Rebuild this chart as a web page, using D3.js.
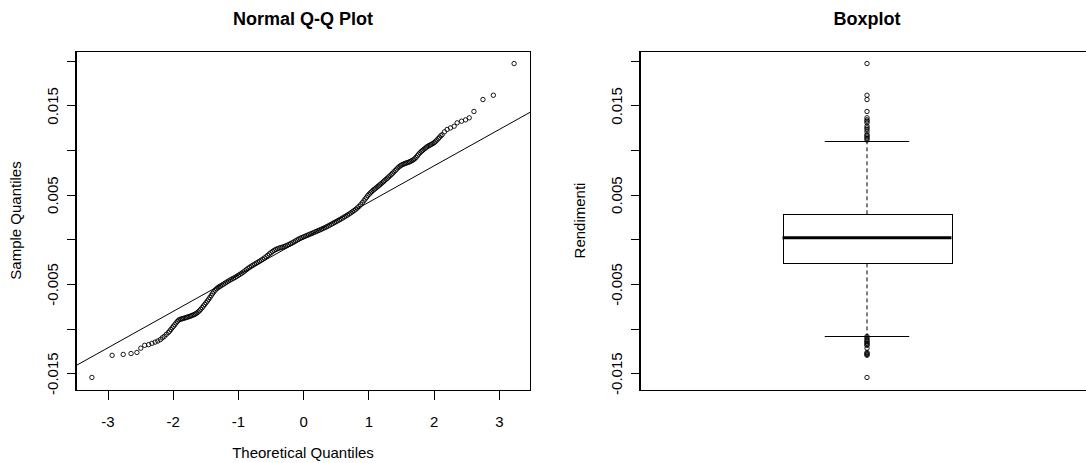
<!DOCTYPE html>
<html><head><meta charset="utf-8">
<script src="https://cdn.jsdelivr.net/npm/d3@7"></script>
<style>
body{margin:0;background:#fff}
text{font-family:"Liberation Sans", Arial, Helvetica, sans-serif;fill:#000}
</style>
</head><body>
<svg id="chart" width="1086" height="463"></svg>
<script>
// ---- Data ----
// Normal Q-Q plot: theoretical quantiles (x) and sorted sample returns (y)
const qqTheoretical = [
 -3.24,-2.93,-2.76,-2.64,-2.55,-2.49,-2.43,-2.37,-2.32,-2.27,-2.23,-2.19,-2.16,-2.13,-2.10,-2.07,-2.05,-2.03,-2.01,
 -1.99,-1.97,-1.95,-1.93,-1.91,-1.89,-1.87,-1.85,-1.83,-1.81,-1.79,-1.77,-1.75,-1.73,-1.71,-1.69,-1.67,-1.65,-1.63,-1.61,
 -1.59,-1.57,-1.55,-1.53,-1.51,-1.49,-1.47,-1.45,-1.43,-1.41,-1.39,-1.37,-1.35,-1.33,-1.31,-1.29,
 -1.27,-1.245,-1.22,-1.195,-1.17,-1.145,-1.12,-1.095,-1.07,-1.045,-1.02,-0.995,-0.97,-0.945,-0.92,-0.895,-0.87,-0.845,
 -0.82,-0.795,-0.77,-0.745,-0.72,-0.695,-0.67,-0.645,-0.62,-0.595,-0.57,-0.545,-0.52,-0.495,-0.47,-0.445,-0.42,-0.395,
 -0.37,-0.345,-0.32,-0.295,-0.27,-0.245,-0.22,-0.195,-0.17,-0.145,-0.12,-0.095,-0.07,-0.045,-0.02,0.005,0.03,0.055,
 0.08,0.105,0.13,0.155,0.18,0.205,0.23,0.255,0.28,0.305,0.33,0.355,0.38,0.405,0.43,0.455,0.48,0.505,0.53,0.555,
 0.58,0.605,0.63,0.655,0.68,0.705,0.73,0.755,0.78,0.805,0.83,0.855,0.88,0.905,
 0.93,0.95,0.97,0.99,1.01,1.03,1.05,1.07,1.09,1.11,1.13,1.15,1.17,1.19,1.21,1.23,1.25,1.27,1.29,1.31,1.33,1.35,
 1.37,1.39,1.41,1.43,1.45,1.47,1.49,1.51,1.53,1.55,1.57,1.59,1.61,1.63,1.65,1.67,1.69,1.71,1.73,1.75,1.77,1.79,
 1.81,1.83,1.85,1.87,1.89,1.91,1.93,1.95,1.97,1.99,2.01,2.03,2.05,2.07,2.09,2.11,
 2.13,2.165,2.206,2.257,2.314,2.36,2.427,2.489,2.545,2.617,2.755,2.915,3.233
];
const qqSample = [
 -0.01548,-0.01300,-0.01290,-0.01280,-0.01268,-0.01220,-0.01188,-0.01180,-0.01166,-0.01152,-0.01140,-0.01124,-0.01104,-0.01088,-0.01066,-0.01046,-0.01030,-0.01012,-0.00992,
 -0.00975,-0.00958,-0.00938,-0.00920,-0.00906,-0.00898,-0.00893,-0.00889,-0.00885,-0.00880,-0.00876,-0.00871,-0.00866,-0.00861,-0.00855,-0.00849,-0.00843,-0.00835,-0.00826,-0.00814,
 -0.00800,-0.00784,-0.00766,-0.00748,-0.00730,-0.00711,-0.00692,-0.00672,-0.00652,-0.00630,-0.00608,-0.00588,-0.00570,-0.00555,-0.00543,-0.00533,
 -0.00524,-0.00513,-0.00502,-0.00490,-0.00478,-0.00467,-0.00456,-0.00446,-0.00437,-0.00427,-0.00416,-0.00404,-0.00393,-0.00381,-0.00368,-0.00354,-0.00340,-0.00326,
 -0.00313,-0.00301,-0.00290,-0.00279,-0.00268,-0.00257,-0.00246,-0.00235,-0.00223,-0.00210,-0.00196,-0.00180,-0.00164,-0.00150,-0.00136,-0.00124,-0.00114,-0.00106,
 -0.00099,-0.00093,-0.00088,-0.00082,-0.00075,-0.00067,-0.00058,-0.00049,-0.00040,-0.00030,-0.00019,-0.00008,0.00002,0.00011,0.00019,0.00027,0.00035,0.00042,
 0.00050,0.00058,0.00065,0.00073,0.00081,0.00089,0.00097,0.00105,0.00113,0.00121,0.00130,0.00139,0.00148,0.00158,0.00168,0.00178,0.00188,0.00198,0.00208,0.00218,
 0.00228,0.00239,0.00250,0.00261,0.00272,0.00284,0.00296,0.00309,0.00322,0.00336,0.00351,0.00368,0.00388,0.00410,
 0.00432,0.00452,0.00470,0.00490,0.00506,0.00520,0.00534,0.00548,0.00560,0.00572,0.00584,0.00596,0.00608,0.00620,0.00633,0.00646,0.00659,0.00672,0.00685,0.00698,0.00712,0.00726,
 0.00740,0.00755,0.00770,0.00785,0.00800,0.00813,0.00824,0.00833,0.00840,0.00846,0.00852,0.00857,0.00862,0.00868,0.00875,0.00883,0.00892,0.00903,0.00918,0.00936,0.00954,0.00970,
 0.00984,0.00996,0.01008,0.01020,0.01032,0.01042,0.01050,0.01058,0.01066,0.01074,0.01084,0.01098,0.01112,0.01128,0.01144,0.01160,
 0.01172,0.01204,0.01230,0.01248,0.01267,0.01305,0.01323,0.01338,0.01361,0.01432,0.01566,0.01614,0.01969
];
// Boxplot statistics: lower whisker, Q1, median, Q3, upper whisker
const boxStats = [-0.01082, -0.00270, 0.00018, 0.00280, 0.01103];
const qnormQuartiles = [-0.6744898, 0.6744898];
// Axis ticks and labels
const yTicks = [-0.015, -0.010, -0.005, 0, 0.005, 0.010, 0.015, 0.020];
const yTickLabels = ["-0.015", "", "-0.005", "", "0.005", "", "0.015", ""];
const xTicks = [-3, -2, -1, 0, 1, 2, 3];
const xTickLabels = ["-3", "-2", "-1", "0", "1", "2", "3"];
const titles = ["Normal Q-Q Plot", "Boxplot"];
const axisTitles = ["Theoretical Quantiles", "Sample Quantiles", "Rendimenti"];

// ---- Layout ----
const svg = d3.select("#chart");
const plotTop = 51, plotBottom = 390;
const p1 = {left: 75, right: 531};
const p2 = {left: 639, right: 1095};
const ext = (lo, hi) => { const r = hi - lo; return [lo - 0.04 * r, hi + 0.04 * r]; };

const yDom = ext(d3.min(qqSample), d3.max(qqSample));
const xDom = ext(d3.min(qqTheoretical), d3.max(qqTheoretical));

const x1 = d3.scaleLinear().domain(xDom).range([p1.left, p1.right]);
const y1 = d3.scaleLinear().domain(yDom).range([plotBottom, plotTop]);
const x2 = d3.scaleLinear().domain(ext(0.5, 1.5)).range([p2.left, p2.right]);
const y2 = d3.scaleLinear().domain(yDom).range([plotBottom, plotTop]);

const FS = 15;

function yAxis(g, scale, left) {
  const ax = d3.axisLeft(scale).tickValues(yTicks).tickSize(9).tickSizeOuter(0)
    .tickFormat((d, i) => yTickLabels[i]);
  const a = g.append("g").attr("transform", `translate(${left + 0.5},0)`).call(ax);
  a.attr("font-family", null).attr("font-size", null);
  a.selectAll("path,line").attr("stroke", "#000").attr("shape-rendering", "crispEdges");
  a.selectAll("text")
    .attr("x", null).attr("dy", null)
    .attr("text-anchor", "middle")
    .attr("font-size", FS)
    .attr("transform", "translate(-18,0) rotate(-90)");
}

// ---- Panel 1: Normal Q-Q Plot ----
const g1 = svg.append("g");
svg.append("defs").append("clipPath").attr("id", "clip1")
  .append("rect").attr("x", p1.left).attr("y", plotTop).attr("width", p1.right - p1.left).attr("height", plotBottom - plotTop);

// qqline through the quartiles
const slope = (boxStats[3] - boxStats[1]) / (qnormQuartiles[1] - qnormQuartiles[0]);
const intercept = boxStats[1] - slope * qnormQuartiles[0];
g1.append("line")
  .attr("clip-path", "url(#clip1)")
  .attr("x1", x1(xDom[0])).attr("y1", y1(intercept + slope * xDom[0]))
  .attr("x2", x1(xDom[1])).attr("y2", y1(intercept + slope * xDom[1]))
  .attr("stroke", "#000").attr("stroke-width", 1);

g1.append("g").selectAll("circle")
  .data(d3.zip(qqTheoretical, qqSample))
  .join("circle")
  .attr("cx", d => x1(d[0])).attr("cy", d => y1(d[1]))
  .attr("r", 2.2).attr("fill", "none").attr("stroke", "#000").attr("stroke-width", 0.9);

g1.append("rect")
  .attr("x", p1.left + 0.5).attr("y", plotTop + 0.5)
  .attr("width", p1.right - p1.left - 1).attr("height", plotBottom - plotTop)
  .attr("fill", "none").attr("stroke", "#000").attr("shape-rendering", "crispEdges");

yAxis(g1, y1, p1.left);

const xa = g1.append("g").attr("transform", `translate(0,${plotBottom + 0.5})`)
  .call(d3.axisBottom(x1).tickValues(xTicks).tickSize(9).tickSizeOuter(0)
    .tickFormat((d, i) => xTickLabels[i]));
xa.attr("font-family", null).attr("font-size", null);
xa.select(".domain").remove();
xa.selectAll("line").attr("stroke", "#000").attr("shape-rendering", "crispEdges");
xa.selectAll("text").attr("y", 36).attr("dy", null).attr("font-size", FS);

const c1 = (p1.left + p1.right) / 2;
g1.append("text").attr("x", c1).attr("y", 25).attr("text-anchor", "middle")
  .attr("font-size", 18).attr("font-weight", "bold").text(titles[0]);
g1.append("text").attr("x", c1).attr("y", 458).attr("text-anchor", "middle")
  .attr("font-size", FS).text(axisTitles[0]);
g1.append("text").attr("transform", `translate(21,${(plotTop + plotBottom) / 2}) rotate(-90)`)
  .attr("text-anchor", "middle").attr("font-size", FS).text(axisTitles[1]);

// ---- Panel 2: Boxplot ----
const g2 = svg.append("g");
const bx = 1, halfBox = 0.2, halfStaple = 0.1;
const outliers = qqSample.filter(v => v < boxStats[0] || v > boxStats[4]);

// whiskers (dashed)
g2.append("line").attr("x1", x2(bx)).attr("x2", x2(bx))
  .attr("y1", y2(boxStats[3])).attr("y2", y2(boxStats[4]))
  .attr("stroke", "#000").attr("stroke-dasharray", "4,3");
g2.append("line").attr("x1", x2(bx)).attr("x2", x2(bx))
  .attr("y1", y2(boxStats[1])).attr("y2", y2(boxStats[0]))
  .attr("stroke", "#000").attr("stroke-dasharray", "4,3");
// staples
[boxStats[0], boxStats[4]].forEach(v => {
  g2.append("line").attr("x1", x2(bx - halfStaple)).attr("x2", x2(bx + halfStaple))
    .attr("y1", Math.round(y2(v)) + 0.5).attr("y2", Math.round(y2(v)) + 0.5)
    .attr("stroke", "#000");
});
// box
g2.append("rect").attr("x", Math.round(x2(bx - halfBox)) + 0.5).attr("y", Math.round(y2(boxStats[3])) + 0.5)
  .attr("width", Math.round(x2(bx + halfBox) - x2(bx - halfBox)))
  .attr("height", Math.round(y2(boxStats[1]) - y2(boxStats[3])))
  .attr("fill", "#fff").attr("stroke", "#000");
// median
g2.append("line").attr("x1", x2(bx - halfBox)).attr("x2", x2(bx + halfBox))
  .attr("y1", y2(boxStats[2])).attr("y2", y2(boxStats[2]))
  .attr("stroke", "#000").attr("stroke-width", 3);
// outliers
g2.append("g").selectAll("circle").data(outliers).join("circle")
  .attr("cx", x2(bx)).attr("cy", d => y2(d))
  .attr("r", 2.2).attr("fill", "none").attr("stroke", "#000").attr("stroke-width", 0.9);

g2.append("rect")
  .attr("x", p2.left + 0.5).attr("y", plotTop + 0.5)
  .attr("width", p2.right - p2.left - 1).attr("height", plotBottom - plotTop)
  .attr("fill", "none").attr("stroke", "#000").attr("shape-rendering", "crispEdges");

yAxis(g2, y2, p2.left);

const c2 = (p2.left + p2.right) / 2;
g2.append("text").attr("x", c2).attr("y", 25).attr("text-anchor", "middle")
  .attr("font-size", 18).attr("font-weight", "bold").text(titles[1]);
g2.append("text").attr("transform", `translate(585,${(plotTop + plotBottom) / 2}) rotate(-90)`)
  .attr("text-anchor", "middle").attr("font-size", FS).text(axisTitles[2]);
</script>
</body></html>
